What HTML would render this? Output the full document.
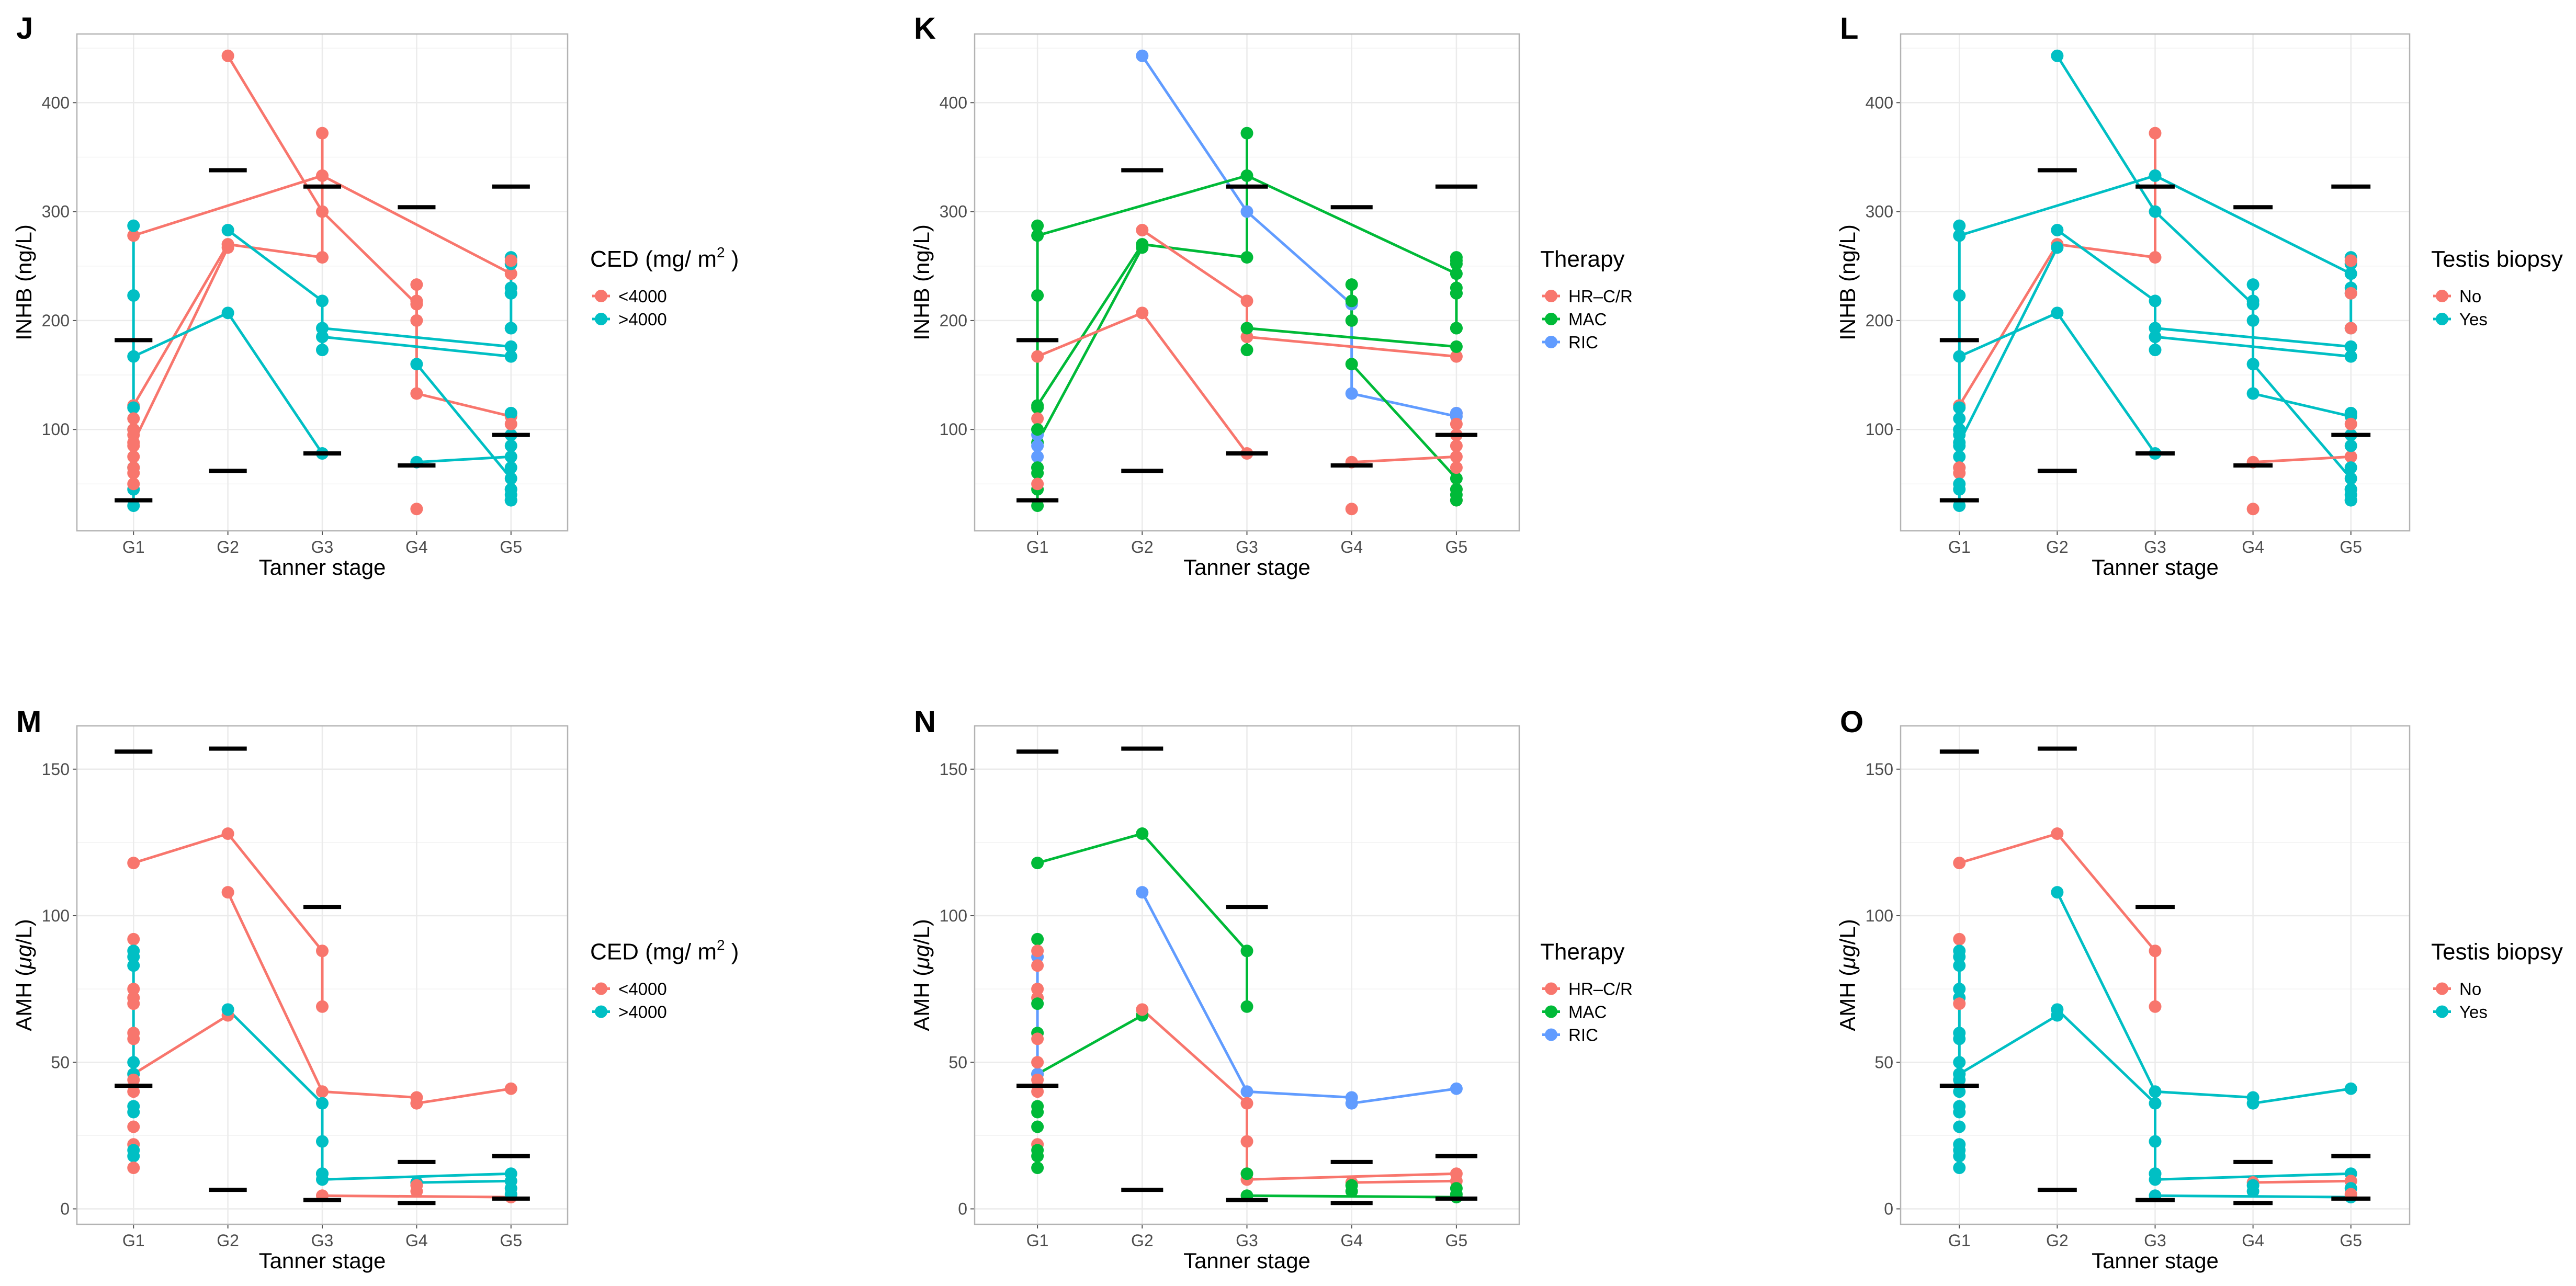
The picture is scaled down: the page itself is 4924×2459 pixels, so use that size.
<!DOCTYPE html>
<html><head><meta charset="utf-8">
<style>
html,body{margin:0;padding:0;background:#fff;}
svg{display:block;font-family:"Liberation Sans",Arial,sans-serif;}
</style></head>
<body>
<svg id="fig" width="4924" height="2459" viewBox="0 0 4924 2459" xmlns="http://www.w3.org/2000/svg"></svg>
<script>
// ---------- data ----------
const stages = ["G1","G2","G3","G4","G5"];
const inhbTicks = [100,200,300,400];
const amhTicks = [0,50,100,150];
// reference bars per stage
const inhbRefUpper = [182,338,323,304,323];
const inhbRefLower = [35,62,78,67,95];
const amhRefUpper = [156,157,103,16,18];
const amhRefLower = [42,6.5,3,2,3.5];
// trajectories: points [stage index 1..5, value]; attrs c (CED), t (therapy), b (biopsy)
const inhbTraj = [
 {c:0,t:2,b:1,p:[[2,443],[3,300],[4,215],[4,133],[5,112]]},
 {c:0,t:1,b:1,p:[[1,278],[3,333],[5,243]]},
 {c:0,t:1,b:0,p:[[1,122],[2,270],[3,258],[3,372]]},
 {c:0,t:1,b:1,p:[[1,88],[2,267]]},
 {c:1,t:0,b:1,p:[[1,167],[2,207],[3,78]]},
 {c:1,t:0,b:1,p:[[2,283],[3,218],[3,185],[5,167]]},
 {c:1,t:1,b:1,p:[[3,173],[3,193],[5,176]]},
 {c:0,t:1,b:1,p:[[4,233],[4,218],[4,200]]},
 {c:1,t:1,b:1,p:[[4,160],[5,55]]},
 {c:1,t:0,b:0,p:[[4,70],[5,75]]},
 {c:0,t:0,b:0,p:[[4,27]]},
 {c:1,t:1,b:1,p:[[1,287],[1,223],[1,120],[1,100],[1,65],[1,45],[1,30]]},
 {c:0,t:0,b:1,p:[[1,110]]},
 {c:0,t:2,b:1,p:[[1,95]]},
 {c:0,t:2,b:1,p:[[1,85]]},
 {c:0,t:2,b:1,p:[[1,75]]},
 {c:0,t:1,b:0,p:[[1,65]]},
 {c:0,t:1,b:0,p:[[1,60]]},
 {c:0,t:0,b:1,p:[[1,50]]},
 {c:0,t:1,b:1,p:[[1,100]]},
 {c:1,t:1,b:1,p:[[5,258],[5,252],[5,230],[5,225],[5,193]]},
 {c:0,t:1,b:0,p:[[5,255]]},
 {c:1,t:1,b:0,p:[[5,225]]},
 {c:1,t:1,b:0,p:[[5,193]]},
 {c:1,t:0,b:1,p:[[5,115],[5,95],[5,85],[5,65],[5,45],[5,35]]},
 {c:1,t:2,b:1,p:[[5,115]]},
 {c:0,t:0,b:0,p:[[5,105]]},
 {c:1,t:1,b:1,p:[[5,45]]},
 {c:1,t:1,b:1,p:[[5,40]]},
 {c:1,t:1,b:1,p:[[5,35]]}
];
const amhTraj = [
 {c:0,t:1,b:0,p:[[1,118],[2,128],[3,88],[3,69]]},
 {c:0,t:2,b:1,p:[[2,108],[3,40],[4,38],[4,36],[5,41]]},
 {c:0,t:1,b:1,p:[[1,46],[2,66]]},
 {c:1,t:0,b:1,p:[[2,68],[3,36],[3,23],[3,12],[3,10],[5,12]]},
 {c:1,t:0,b:0,p:[[4,9],[5,9.5]]},
 {c:0,t:1,b:1,p:[[3,4.5],[5,4]]},
 {c:1,t:2,b:1,p:[[1,86],[1,46]]},
 {c:0,t:1,b:0,p:[[1,92]]},
 {c:1,t:0,b:1,p:[[1,88]]},
 {c:1,t:0,b:1,p:[[1,83]]},
 {c:0,t:0,b:1,p:[[1,75]]},
 {c:0,t:0,b:1,p:[[1,72]]},
 {c:0,t:1,b:0,p:[[1,70]]},
 {c:0,t:1,b:1,p:[[1,60]]},
 {c:0,t:0,b:1,p:[[1,58]]},
 {c:1,t:0,b:1,p:[[1,50]]},
 {c:0,t:0,b:1,p:[[1,44]]},
 {c:0,t:0,b:1,p:[[1,40]]},
 {c:1,t:1,b:1,p:[[1,35]]},
 {c:1,t:1,b:1,p:[[1,33]]},
 {c:0,t:1,b:1,p:[[1,28]]},
 {c:0,t:0,b:1,p:[[1,22]]},
 {c:1,t:1,b:1,p:[[1,20]]},
 {c:1,t:1,b:1,p:[[1,18]]},
 {c:0,t:1,b:1,p:[[1,14]]},
 {c:1,t:1,b:1,p:[[3,12]]},
 {c:0,t:1,b:1,p:[[4,8]]},
 {c:0,t:1,b:1,p:[[4,6]]},
 {c:1,t:1,b:1,p:[[5,7]]},
 {c:1,t:1,b:0,p:[[5,5]]}
];
const cedLabels = ["<4000",">4000"];
const therapyLabels = ["HR\u2013C/R","MAC","RIC"];
const biopsyLabels = ["No","Yes"];

// ---------- drawing ----------
const NS = "http://www.w3.org/2000/svg";
const svg = document.getElementById("fig");
function mk(tag, attrs, parent){
  const e = document.createElementNS(NS, tag);
  for (const k in attrs) e.setAttribute(k, attrs[k]);
  (parent||svg).appendChild(e);
  return e;
}
const RED="#F8766D", TEAL="#00BFC4", GREEN="#00BA38", BLUE="#619CFF";
const pal = {c:[RED,TEAL], t:[RED,GREEN,BLUE], b:[RED,TEAL]};

const cols = [
  {left:147, right:1085, key:"c", letter:["J","M"], legTitle:"ced", labels:cedLabels, legX:1128},
  {left:1863, right:2904, key:"t", letter:["K","N"], legTitle:"Therapy", labels:therapyLabels, legX:2944},
  {left:3633, right:4606, key:"b", letter:["L","O"], legTitle:"Testis biopsy", labels:biopsyLabels, legX:4647}
];
const rows = [
  {top:65, bottom:1015, y0:1029.5, k:2.083, ticks:inhbTicks, minor:[50,150,250,350,450], traj:inhbTraj, up:inhbRefUpper, lo:inhbRefLower, ytitle:"INHB (ng/L)", letterY:74},
  {top:1388, bottom:2341, y0:2311.5, k:5.605, ticks:amhTicks, minor:[25,75,125], traj:amhTraj, up:amhRefUpper, lo:amhRefLower, ytitle:"AMH", letterY:1400}
];

rows.forEach((row, ri) => {
  cols.forEach((col, ci) => {
    const g = mk("g", {});
    
    
    const s = (col.right - col.left) / 5.2;
    const xs = i => col.left + s * (0.6 + (i - 1));
    const ys = v => row.y0 - row.k * v;
    const cx = (col.left + col.right) / 2;
    row.minor.forEach(v => { const y = ys(v); if (y > row.top && y < row.bottom) {
      const l = mk("line", {x1:col.left, x2:col.right, y1:y, y2:y, stroke:"#f2f2f2", "stroke-width":1.5}, g);
      
      
    }});
    row.ticks.forEach(v => { const y = ys(v);
      const l = mk("line", {x1:col.left, x2:col.right, y1:y, y2:y, stroke:"#ebebeb", "stroke-width":2.5}, g);
      
      
      mk("line", {x1:col.left-8, x2:col.left, y1:y, y2:y, stroke:"#555", "stroke-width":2}, g);
      const t = mk("text", {x:col.left-14, y:y+11, "text-anchor":"end", "font-size":32, fill:"#4d4d4d"}, g);
      t.textContent = v;
      
      
    });
    stages.forEach((st, i) => { const x = xs(i+1);
      const l = mk("line", {x1:x, x2:x, y1:row.top, y2:row.bottom, stroke:"#ebebeb", "stroke-width":2.5}, g);
      
      
      mk("line", {x1:x, x2:x, y1:row.bottom, y2:row.bottom+8, stroke:"#555", "stroke-width":2}, g);
      const t = mk("text", {x:x, y:row.bottom+42, "text-anchor":"middle", "font-size":32, fill:"#4d4d4d"}, g);
      t.textContent = st;
      
      
    });
    const box = mk("rect", {x:col.left, y:row.top, width:col.right-col.left, height:row.bottom-row.top, fill:"none", stroke:"#b3b3b3", "stroke-width":2.5}, g);
    
    
    row.traj.forEach(tr => {
      if (tr.p.length < 2) return;
      const d = tr.p.map((p, j) => (j ? "L" : "M") + xs(p[0]).toFixed(1) + " " + ys(p[1]).toFixed(1)).join(" ");
      const pl = mk("path", {d:d, fill:"none", stroke:pal[col.key][tr[col.key]], "stroke-width":5, "stroke-linejoin":"round"}, g);
      
      
    });
    row.traj.forEach(tr => tr.p.forEach(p => {
      const c = mk("circle", {cx:xs(p[0]), cy:ys(p[1]), r:12, fill:pal[col.key][tr[col.key]]}, g);
      
      
    }));
    [row.up, row.lo].forEach(arr => arr.forEach((v, i) => {
      const x = xs(i+1);
      const b = mk("line", {x1:x-0.2*s, x2:x+0.2*s, y1:ys(v), y2:ys(v), stroke:"#000", "stroke-width":8}, g);
      
      
    }));
    const xt = mk("text", {x:cx, y:row.bottom+84, "text-anchor":"middle", "font-size":42, fill:"#000"}, g);
    xt.textContent = "Tanner stage";
    
    
    const ymid = (row.top + row.bottom) / 2;
    const yt = mk("text", {x:0, y:0, "text-anchor":"middle", "font-size":42, fill:"#000", transform:`translate(${col.left-87},${ymid}) rotate(-90)`}, g);
    
    
    if (ri === 0) { yt.textContent = row.ytitle; }
    else {
      yt.appendChild(document.createTextNode("AMH ("));
      const ts = mk("tspan", {"font-style":"italic"}, yt); ts.textContent = "\u03bcg";
      yt.appendChild(document.createTextNode("/L)"));
    }
    const lt = mk("text", {x:col.left-116, y:row.letterY, "font-size":58, "font-weight":"bold", fill:"#000"}, g);
    lt.textContent = col.letter[ri];
    
    
    const lgY = ymid - 30;
    const title = mk("text", {x:col.legX, y:lgY, "font-size":44, fill:"#000"}, g);
    
    
    if (col.legTitle === "ced") {
      title.appendChild(document.createTextNode("CED (mg/ m"));
      const sp = mk("tspan", {"font-size":28, dy:-18}, title); sp.textContent = "2";
      const sp2 = mk("tspan", {dy:18}, title); sp2.textContent = " )";
    } else title.textContent = col.legTitle;
    col.labels.forEach((lab, i) => {
      const ey = lgY + 56 + i * 44;
      const kc = pal[col.key][i];
      const ent = mk("g", {}, g);
      
      
      mk("line", {x1:col.legX+4, x2:col.legX+38, y1:ey, y2:ey, stroke:kc, "stroke-width":5}, ent);
      mk("circle", {cx:col.legX+21, cy:ey, r:12, fill:kc}, ent);
      const t = mk("text", {x:col.legX+54, y:ey+12, "font-size":33, fill:"#000"}, ent);
      t.textContent = lab;
    });
  });
});
</script>
</body></html>
